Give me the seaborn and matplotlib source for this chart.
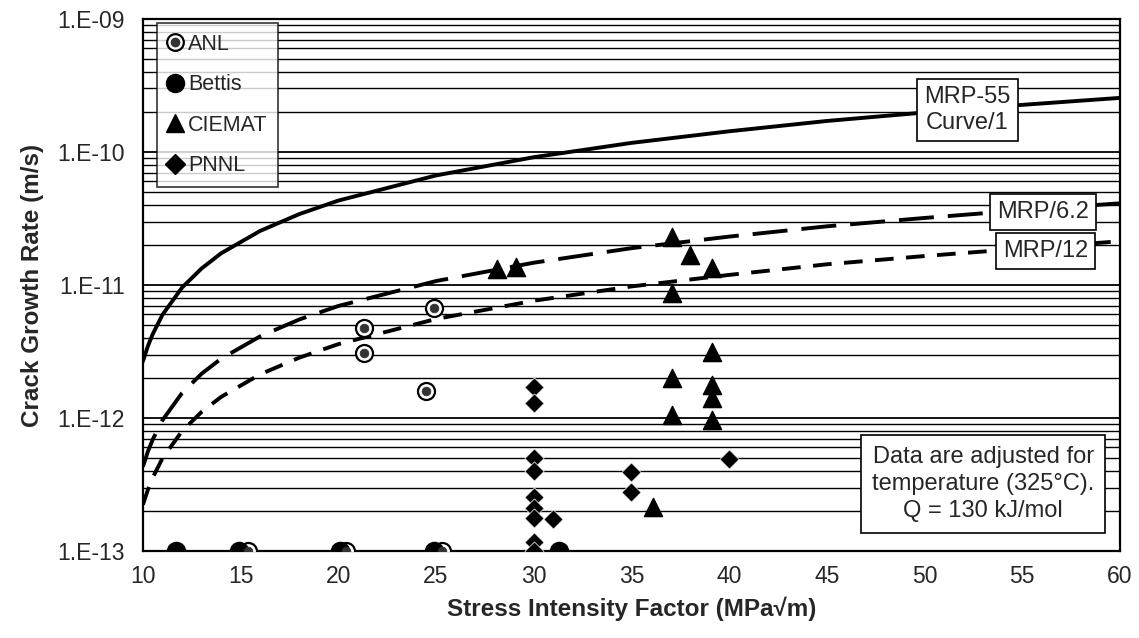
import numpy as np
import pandas as pd
import matplotlib
matplotlib.use('Agg')
import matplotlib.pyplot as plt
import seaborn as sns
from matplotlib.ticker import FixedLocator, NullFormatter
from matplotlib.legend_handler import HandlerTuple
from matplotlib.lines import Line2D

# disposition curves
k_curve = [10, 10.25, 10.5, 11, 12, 13, 14, 16, 18, 20, 25, 30, 35, 40, 45, 50, 55, 60]
mrp55 = [2.67e-12, 3.46e-12, 4.27e-12, 5.97e-12, 9.55e-12, 1.33e-11, 1.73e-11, 2.55e-11, 3.41e-11,
         4.31e-11, 6.66e-11, 9.13e-11, 1.17e-10, 1.43e-10, 1.71e-10, 1.98e-10, 2.26e-10, 2.55e-10]
mrp62 = [4.31e-13, 5.58e-13, 6.89e-13, 9.63e-13, 1.54e-12, 2.15e-12, 2.79e-12, 4.11e-12, 5.5e-12,
         6.95e-12, 1.07e-11, 1.47e-11, 1.89e-11, 2.31e-11, 2.76e-11, 3.19e-11, 3.65e-11, 4.11e-11]
mrp12 = [2.23e-13, 2.88e-13, 3.56e-13, 4.98e-13, 7.96e-13, 1.11e-12, 1.44e-12, 2.13e-12, 2.84e-12,
         3.59e-12, 5.55e-12, 7.61e-12, 9.75e-12, 1.19e-11, 1.43e-11, 1.65e-11, 1.88e-11, 2.13e-11]

# lab data
anl_k = [21.3, 21.3, 24.9, 24.5, 15.4, 20.4, 25.3]
anl_cgr = [4.75e-12, 3.1e-12, 6.7e-12, 1.6e-12, 1e-13, 1e-13, 1e-13]
bettis_k = [11.7, 14.9, 20.1, 24.9, 31.3]
bettis_cgr = [1e-13, 1e-13, 1e-13, 1e-13, 1e-13]
ciemat_k = [28.1, 29.1, 37.1, 38.0, 39.1, 37.1, 39.1, 37.1, 39.1, 39.1, 37.1, 39.1, 36.1]
ciemat_cgr = [1.31e-11, 1.36e-11, 2.3e-11, 1.68e-11, 1.34e-11, 8.7e-12, 3.13e-12, 2.0e-12,
              1.77e-12, 1.41e-12, 1.05e-12, 9.7e-13, 2.14e-13]
pnnl_k = [30, 30, 30, 30, 30, 30, 30, 31, 30, 30, 35, 35, 40]
pnnl_cgr = [1.71e-12, 1.3e-12, 5.0e-13, 4.0e-13, 2.55e-13, 2.1e-13, 1.77e-13, 1.75e-13,
            1.17e-13, 1e-13, 3.93e-13, 2.78e-13, 4.92e-13]

y_ticks = [1e-13, 1e-12, 1e-11, 1e-10, 1e-9]
y_tick_labels = ['1.E-13', '1.E-12', '1.E-11', '1.E-10', '1.E-09']
x_ticks = [10, 15, 20, 25, 30, 35, 40, 45, 50, 55, 60]

sns.set_style('white')
plt.rcParams['font.family'] = ['Liberation Sans', 'DejaVu Sans']

fig = plt.figure(figsize=(11.39, 6.38), dpi=100)
ax = fig.add_axes([0.1255, 0.1364, 0.8578, 0.8339])
ax.set_yscale('log')
ax.set_xlim(10, 60)
ax.set_ylim(1e-13, 1e-9)

# horizontal grid at every decade and sub-decade
minor_y = [m * 10.0 ** e for e in range(-13, -9) for m in range(2, 10)]
ax.yaxis.set_major_locator(FixedLocator(y_ticks))
ax.yaxis.set_minor_locator(FixedLocator(minor_y))
ax.yaxis.set_minor_formatter(NullFormatter())
ax.set_yticks(y_ticks, y_tick_labels)
ax.grid(True, axis='y', which='major', color='black', lw=1.3, zorder=0)
ax.grid(True, axis='y', which='minor', color='black', lw=1.0, zorder=0)
ax.set_xticks(x_ticks)
ax.set_xticks(np.arange(10, 61, 1), minor=True)

curves = pd.DataFrame({'K': k_curve * 3,
                       'cgr': mrp55 + mrp62 + mrp12,
                       'curve': ['MRP-55'] * len(k_curve) + ['MRP/6.2'] * len(k_curve) + ['MRP/12'] * len(k_curve)})
for name, ls in [('MRP-55', '-'), ('MRP/6.2', (0, (9, 3.6))), ('MRP/12', (0, (4.8, 3.2)))]:
    sns.lineplot(data=curves[curves['curve'] == name], x='K', y='cgr', color='black',
                 lw=2.8, linestyle=ls, ax=ax, zorder=3, legend=False)

sns.scatterplot(x=anl_k, y=anl_cgr, marker='o', s=150, color='white', edgecolor='black', linewidth=1.6, ax=ax, zorder=4)
sns.scatterplot(x=anl_k, y=anl_cgr, marker='o', s=40, color='#333333', edgecolor='#333333', linewidth=0.5, ax=ax, zorder=5)
sns.scatterplot(x=bettis_k, y=bettis_cgr, marker='o', s=170, color='black', edgecolor='black', ax=ax, zorder=4)
sns.scatterplot(x=ciemat_k, y=ciemat_cgr, marker='^', s=170, color='black', edgecolor='black', ax=ax, zorder=4)
sns.scatterplot(x=pnnl_k, y=pnnl_cgr, marker='D', s=95, color='black', edgecolor='white', linewidth=0.5, ax=ax, zorder=4)

for sp in ax.spines.values():
    sp.set_color('black')
    sp.set_linewidth(1.6)
ax.tick_params(axis='x', which='major', direction='inout', length=12, width=1.5, labelsize=16.5, pad=4)
ax.tick_params(axis='x', which='minor', direction='in', length=6, width=1.2)
ax.tick_params(axis='y', which='major', direction='inout', length=14, width=1.5, labelsize=16.5, pad=6)
ax.tick_params(axis='y', which='minor', length=0)
ax.set_xlabel('Stress Intensity Factor (MPa\u221am)', fontsize=17.5, fontweight='bold', labelpad=6)
ax.set_ylabel('Crack Growth Rate (m/s)', fontsize=17.5, fontweight='bold', labelpad=10)

box = dict(boxstyle='square,pad=0.3', facecolor='white', edgecolor='black', lw=1.2)
ax.text(52.2, 2.07e-10, 'MRP-55\nCurve/1', fontsize=17, ha='center', va='center', bbox=box, zorder=6, linespacing=1.25)
ax.text(56.05, 3.54e-11, 'MRP/6.2', fontsize=17, ha='center', va='center', bbox=box, zorder=6)
ax.text(56.2, 1.8e-11, 'MRP/12', fontsize=17, ha='center', va='center', bbox=box, zorder=6)
ax.text(53.0, 3.19e-13, 'Data are adjusted for\ntemperature (325\u00b0C).\nQ = 130 kJ/mol', fontsize=17,
        ha='center', va='center', bbox=dict(boxstyle='square,pad=0.45', facecolor='white', edgecolor='black', lw=1.2),
        zorder=6, linespacing=1.3)

h_anl = (Line2D([], [], marker='o', ls='', ms=12, mfc='white', mec='black', mew=1.6),
         Line2D([], [], marker='o', ls='', ms=6, mfc='#333333', mec='#333333'))
h_bet = Line2D([], [], marker='o', ls='', ms=13, color='black')
h_cie = Line2D([], [], marker='^', ls='', ms=13, color='black')
h_pnn = Line2D([], [], marker='D', ls='', ms=10, color='black')
leg = ax.legend([h_anl, h_bet, h_cie, h_pnn], ['ANL', 'Bettis', 'CIEMAT', 'PNNL'],
                handler_map={tuple: HandlerTuple(ndivide=1)}, loc='upper left',
                bbox_to_anchor=(0.014, 0.992), borderaxespad=0, fontsize=15.5, frameon=True, fancybox=False,
                handlelength=0.7, handletextpad=0.25, labelspacing=0.9, borderpad=0.5)
leg.get_frame().set_edgecolor('black')
leg.get_frame().set_linewidth(1.2)
leg.set_zorder(7)

fig.savefig('out.png', dpi=100)
